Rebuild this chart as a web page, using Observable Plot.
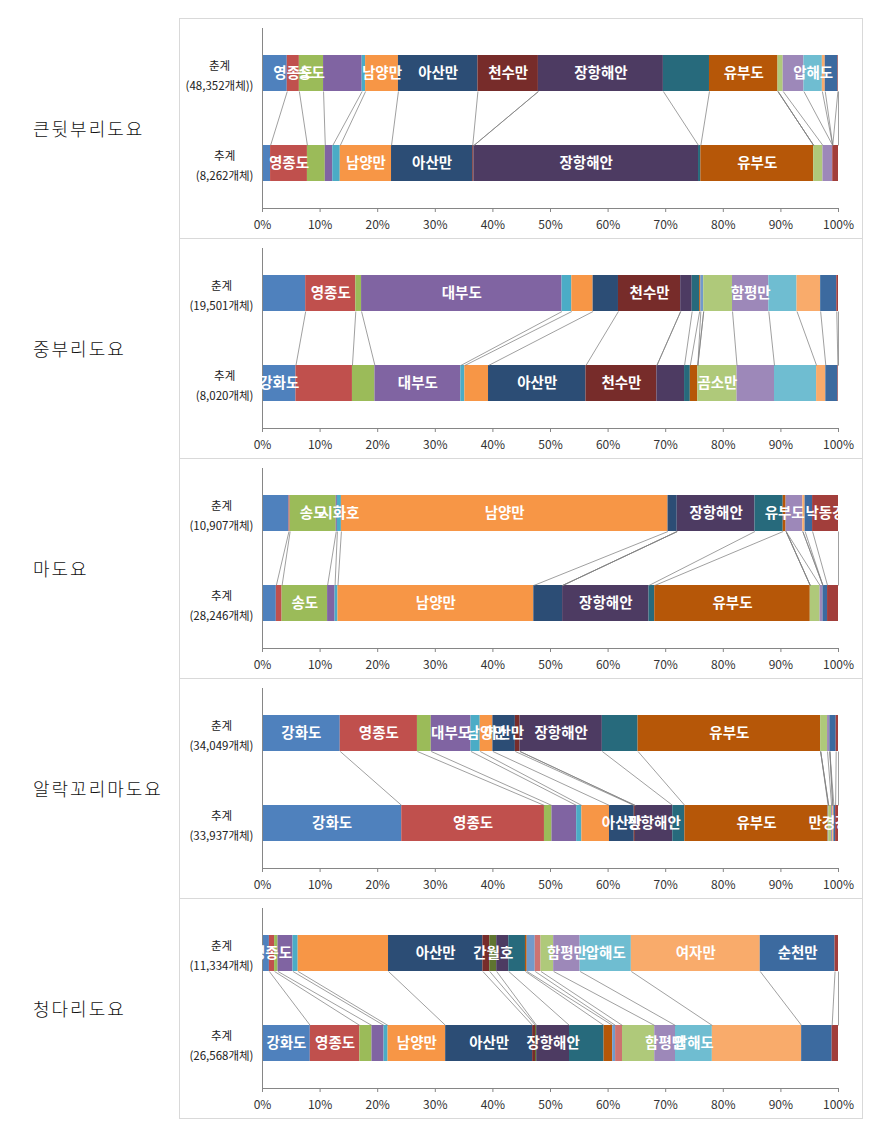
<!DOCTYPE html>
<html><head><meta charset="utf-8">
<script src="https://cdn.jsdelivr.net/npm/d3@7"></script>
<script src="https://cdn.jsdelivr.net/npm/@observablehq/plot@0.6"></script>
<style>
body{margin:0;background:#fff;}
#root{position:relative;width:877px;height:1121px;overflow:hidden;font-family:"Noto Sans CJK KR",sans-serif;}
.species{position:absolute;left:33px;font-size:18px;font-weight:300;letter-spacing:2px;color:#111;line-height:1;transform:translateY(-50%);white-space:nowrap;}
.box{position:absolute;left:179px;width:684px;height:221px;box-sizing:border-box;border:1px solid #d9d9d9;}
.plot{position:absolute;left:180px;}
</style></head><body><div id="root"></div>
<script>
const sites = ["강화도","영종도","송도","대부도","시화호","남양만","아산만","천수만","간월호","장항해안","금강","유부도","만경강","동진강","곰소만","함평만","압해도","여자만","순천만","낙동강"];
const colors = ["#4F81BD","#C0504D","#9BBB59","#8064A2","#4BACC6","#F79646","#2C4D75","#772C2A","#5F7530","#4D3B62","#276A7C","#B65708","#729ACA","#CD7371","#AFC97A","#9D88B9","#6FBDD1","#F9AB6B","#3C6A9F","#A23E3B"];
const species = ["큰뒷부리도요","중부리도요","마도요","알락꼬리마도요","청다리도요"];
const seasons = ["춘계","추계"];
const springCounts = ["(48,352개체))","(19,501개체)","(10,907개체)","(34,049개체)","(11,334개체)"];
const autumnCounts = ["(8,262개체)","(8,020개체)","(28,246개체)","(33,937개체)","(26,568개체)"];
const ticks = [0,0.1,0.2,0.3,0.4,0.5,0.6,0.7,0.8,0.9,1];

// percentage shares by site (order of `sites`)
const kbSpring = [4.3,2.1,4.2,6.7,0.6,5.7,13.8,10.5,0,21.7,8.0,11.9,0,0,0.9,3.6,3.2,0.5,2.2,0.1];
const kbAutumn = [1.4,6.4,3.1,1.3,1.3,8.9,14.1,0.2,0,39.0,0.4,19.6,0,0,1.6,1.7,0,0,0,1.0];
const jbSpring = [7.5,8.7,1.0,34.8,1.7,3.7,4.4,10.8,0,2.0,1.3,0.2,0.5,0,5.0,6.3,4.9,4.1,2.8,0.3];
const jbAutumn = [5.8,9.8,3.9,14.9,0.7,4.1,16.9,12.3,0,4.8,1.0,1.3,0,0,6.8,6.5,7.3,1.6,2.1,0.1];
const mdSpring = [4.6,0.2,8.0,0.2,0.7,56.7,1.6,0,0,13.5,4.9,0.5,0,0,0,2.9,0,0.4,1.3,4.5];
const mdAutumn = [2.4,1.0,7.9,1.3,0.5,34.0,5.0,0,0,15.0,1.0,27.0,0,0,1.7,0.5,0,0,0.8,1.9];
const alSpring = [13.5,13.4,2.4,6.9,1.6,2.2,3.9,0.8,0,14.3,6.2,31.7,0,0,1.2,0.4,0,0,1.1,0.4];
const alAutumn = [24.2,24.8,1.3,4.3,0.9,4.8,4.3,0.2,0,6.5,2.1,24.9,0.1,0,0.5,0.2,0,0.2,0.3,0.5];
const cdSpring = [1.2,0.9,0.6,2.6,0.9,15.7,16.4,1.2,1.2,2.1,2.9,0.3,1.4,1.0,2.2,4.6,8.9,22.4,13.0,0.6];
const cdAutumn = [8.3,8.6,2.1,2.1,0.7,10.0,15.1,0.5,0.2,5.7,6.0,1.5,0.5,1.2,5.6,3.6,6.4,15.5,5.3,1.1];

// which segments carry a data label
const kbSpringLabels = ["영종도","송도","남양만","아산만","천수만","장항해안","유부도","압해도"];
const kbAutumnLabels = ["영종도","남양만","아산만","장항해안","유부도"];
const jbSpringLabels = ["영종도","대부도","천수만","함평만"];
const jbAutumnLabels = ["강화도","대부도","아산만","천수만","곰소만"];
const mdSpringLabels = ["송도","시화호","남양만","장항해안","유부도","낙동강"];
const mdAutumnLabels = ["송도","남양만","장항해안","유부도"];
const alSpringLabels = ["강화도","영종도","대부도","남양만","아산만","장항해안","유부도"];
const alAutumnLabels = ["강화도","영종도","아산만","장항해안","유부도","만경강"];
const cdSpringLabels = ["영종도","아산만","간월호","함평만","압해도","여자만","순천만"];
const cdAutumnLabels = ["강화도","영종도","남양만","아산만","장항해안","함평만","압해도"];

const springs = [kbSpring, jbSpring, mdSpring, alSpring, cdSpring];
const autumns = [kbAutumn, jbAutumn, mdAutumn, alAutumn, cdAutumn];
const springLabels = [kbSpringLabels, jbSpringLabels, mdSpringLabels, alSpringLabels, cdSpringLabels];
const autumnLabels = [kbAutumnLabels, jbAutumnLabels, mdAutumnLabels, alAutumnLabels, cdAutumnLabels];

const FONT = "'Noto Sans CJK KR', sans-serif";
const PANEL_TOP = 18, PANEL_H = 220, HALF = 0.2;
const ctx = document.createElement("canvas").getContext("2d");
ctx.font = "11.5px 'Noto Sans CJK KR'";
const root = document.getElementById("root");

function makePanel(k) {
  const rows = [];
  [[springs[k], 0, springLabels[k]], [autumns[k], 1, autumnLabels[k]]].forEach(([vals, s, labs]) => {
    const total = d3.sum(vals); let c = 0;
    vals.forEach((v, i) => {
      const x1 = c / total; c += v;
      rows.push({season: s, site: sites[i], v, x1, x2: c / total, labeled: labs.includes(sites[i])});
    });
  });
  const sp = rows.filter(d => d.season === 0), au = rows.filter(d => d.season === 1);
  const links = sp.map((d, i) => ({a: d.x2, b: au[i].x2}));
  const catMarks = [0, 1].map(s => {
    const l1 = seasons[s], l2 = s === 0 ? springCounts[k] : autumnCounts[k];
    const w = Math.max(ctx.measureText(l1).width, ctx.measureText(l2).width);
    return Plot.text([{season: s, t: l1 + "\n" + l2}], {
      y: "season", frameAnchor: "left", text: "t", textAnchor: "middle",
      dx: -(9 + w / 2), lineHeight: 1.75, fontSize: 11.5, fill: "#222", fontFamily: FONT
    });
  });
  const plot = Plot.plot({
    width: 682, height: PANEL_H,
    marginLeft: 82, marginRight: 24, marginTop: 10, marginBottom: 30,
    x: {type: "linear", domain: [0, 1], axis: null},
    y: {type: "linear", domain: [-0.5, 1.5], range: [10, 190], axis: null},
    color: {domain: sites, range: colors},
    style: {fontFamily: FONT, background: "transparent"},
    marks: [
      Plot.rect(rows.filter(d => d.v > 0), {x1: "x1", x2: "x2", y1: d => d.season - HALF, y2: d => d.season + HALF, fill: "site"}),
      Plot.link(links, {x1: "a", x2: "b", y1: () => HALF, y2: () => 1 - HALF, stroke: "#808080", strokeWidth: 0.75}),
      Plot.ruleX([0], {stroke: "#868686", strokeWidth: 1}),
      Plot.ruleY([1.5], {stroke: "#868686", strokeWidth: 1}),
      Plot.ruleX(ticks, {x: d => d, y1: () => 1.5, y2: () => 1.5, insetBottom: -4, stroke: "#868686", strokeWidth: 1}),
      Plot.text(ticks, {x: d => d, y: () => 1.5, text: d => Math.round(d * 100) + "%", dy: 17, fontSize: 12, fill: "#333", fontFamily: FONT}),
      Plot.text(rows.filter(d => d.labeled), {x: d => (d.x1 + d.x2) / 2, y: "season", text: "site", fill: "white", fontWeight: "bold", fontSize: 14.5, fontFamily: FONT, clip: true}),
      ...catMarks
    ]
  });
  plot.classList.add("plot");
  plot.style.top = (PANEL_TOP + PANEL_H * k) + "px";
  const box = document.createElement("div");
  box.className = "box"; box.style.top = (PANEL_TOP + PANEL_H * k) + "px";
  root.appendChild(box);
  root.appendChild(plot);
  const lab = document.createElement("div");
  lab.className = "species"; lab.textContent = species[k];
  lab.style.top = (PANEL_TOP + PANEL_H * k + PANEL_H / 2) + "px";
  root.appendChild(lab);
}
species.forEach((_, k) => makePanel(k));
</script></body></html>
